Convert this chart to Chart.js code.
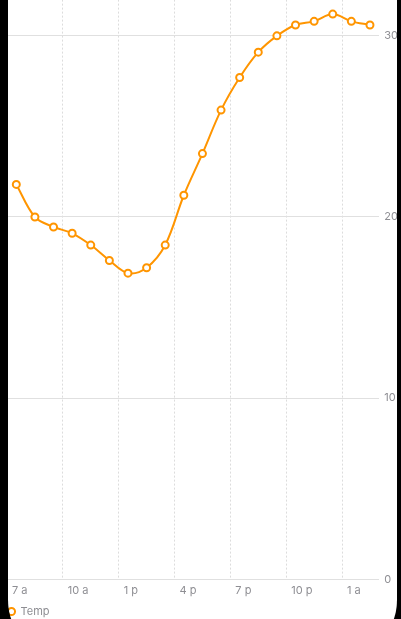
<!DOCTYPE html>
<html lang="en">
<head>
    <meta charset="UTF-8">
    <meta name="viewport" content="width=device-width, initial-scale=1.0">
    <title>Temp</title>
    <script src="https://cdn.jsdelivr.net/npm/chart.js"></script>
    <style>
        html, body { margin: 0; padding: 0; background: #fff; overflow: hidden; }
        /* canvas a bit larger than the window so the plot area fills it edge to edge */
        .wrap { position: absolute; left: 0; top: -12px; width: 409px; height: 639px; }
        /* black phone frame with rounded bottom corners */
        .frame {
            position: absolute; left: 8px; top: -60px; width: 389px; height: 720px;
            border-radius: 0 0 60px 60px; box-shadow: 0 0 0 200px #000; pointer-events: none;
        }
    </style>
</head>
<body>
    <div class="wrap"><canvas id="tempChart"></canvas></div>
    <div class="frame"></div>
    <script>
        // hourly readings, plotted at the half hour (7:30 a ... 2:30 a)
        const hours = [7.5, 8.5, 9.5, 10.5, 11.5, 12.5, 13.5, 14.5, 15.5, 16.5,
                       17.5, 18.5, 19.5, 20.5, 21.5, 22.5, 23.5, 24.5, 25.5, 26.5];
        const temps = [21.8, 20.0, 19.45, 19.1, 18.45, 17.6, 16.9, 17.2, 18.45, 21.2,
                       23.5, 25.9, 27.7, 29.1, 30.0, 30.6, 30.8, 31.2, 30.8, 30.6];

        const tickHours = [7, 10, 13, 16, 19, 22, 25];
        const tickLabels = ['7 a', '10 a', '1 p', '4 p', '7 p', '10 p', '1 a'];
        const yTicks = [0, 10, 20, 30];

        const orange = '#FF9500';
        const gray = '#8e8e93';

        Chart.defaults.font.family = "Inter, 'Helvetica Neue', Arial, sans-serif";
        Chart.defaults.font.size = 11;
        Chart.defaults.color = gray;

        // nudge the legend a few px left, under the frame edge
        const legendShift = {
            id: 'legendShift',
            afterLayout(chart) {
                chart.legend.left -= 2.5;
                chart.legend.right -= 2.5;
            }
        };

        const ctx = document.getElementById('tempChart').getContext('2d');
        new Chart(ctx, {
            type: 'line',
            data: {
                datasets: [{
                    label: 'Temp',
                    data: hours.map((h, i) => ({ x: h, y: temps[i] })),
                    borderColor: orange,
                    backgroundColor: '#fff',
                    borderWidth: 2,
                    tension: 0.35,
                    pointRadius: 3.5,
                    pointBorderWidth: 2,
                    pointBorderColor: orange,
                    pointBackgroundColor: '#fff',
                    clip: false
                }]
            },
            options: {
                responsive: true,
                maintainAspectRatio: false,
                animation: false,
                layout: { padding: { left: 7, right: 6, top: 0, bottom: 0 } },
                plugins: {
                    tooltip: { enabled: false },
                    legend: {
                        position: 'bottom',
                        align: 'start',
                        labels: {
                            usePointStyle: true,
                            pointStyle: 'circle',
                            boxWidth: 7,
                            boxHeight: 5,
                            padding: 3.5,
                            color: gray
                        }
                    }
                },
                scales: {
                    x: {
                        type: 'linear',
                        min: 7,
                        max: 27,
                        afterBuildTicks: scale => {
                            scale.ticks = tickHours.map(v => ({ value: v }));
                        },
                        grid: { color: '#dcdcdc', drawTicks: false },
                        border: { display: false, dash: [2, 2] },
                        ticks: {
                            align: 'start',
                            labelOffset: 5,
                            padding: 5,
                            maxRotation: 0,
                            callback: v => tickLabels[tickHours.indexOf(v)]
                        }
                    },
                    y: {
                        position: 'right',
                        min: 0,
                        max: 32,
                        afterBuildTicks: scale => {
                            scale.ticks = yTicks.map(v => ({ value: v }));
                        },
                        grid: { color: '#e0e0e0', drawTicks: false },
                        border: { display: false },
                        ticks: { padding: 5 }
                    }
                }
            },
            plugins: [legendShift]
        });
    </script>
</body>
</html>
